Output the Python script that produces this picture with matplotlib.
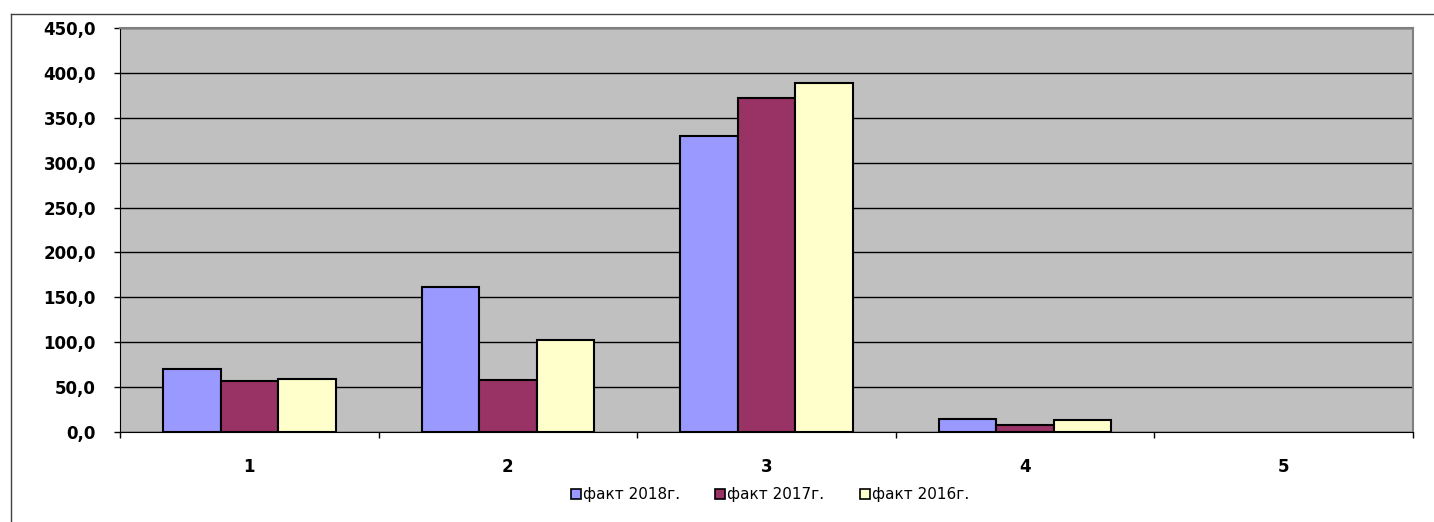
import numpy as np
import matplotlib.pyplot as plt
from matplotlib.lines import Line2D

plt.rcParams['font.family'] = ['DejaVu Sans']

categories = ['1', '2', '3', '4', '5']
series_names = ['факт 2018г.', 'факт 2017г.', 'факт 2016г.']
fact_2018 = [70.2, 161.5, 329.3, 14.5, 0.0]
fact_2017 = [57.0, 58.3, 371.6, 7.4, 0.0]
fact_2016 = [58.6, 102.4, 388.3, 13.4, 0.0]
colors = ['#9999FF', '#993366', '#FFFFCC']

fig = plt.figure(figsize=(14.34, 5.22), dpi=100)
ax = fig.add_axes([120 / 1434, 90 / 522, (1413 - 120) / 1434, (432 - 28) / 522])

x = np.arange(len(categories))
w = 0.2223
for i, (vals, name) in enumerate(zip([fact_2018, fact_2017, fact_2016], series_names)):
    lw = [1.5 if v > 0 else 0 for v in vals]
    ax.bar(x + (i - 1) * w, vals, width=w, color=colors[i], edgecolor='black',
           linewidth=lw, label=name, zorder=3)

ax.set_facecolor('#C0C0C0')
ax.set_xlim(-0.5, 4.5)
ax.set_ylim(0, 450)
yt = np.arange(0, 451, 50)
ax.set_yticks(yt)
ax.set_yticklabels([f'{v:.1f}'.replace('.', ',') for v in yt], fontsize=12, fontweight='bold')
ax.yaxis.grid(True, color='black', linewidth=1, zorder=1)

# ticks at category boundaries, labels at centers
ax.set_xticks(np.arange(-0.5, 4.6, 1.0))
ax.set_xticklabels([])
ax.set_xticks(x, minor=True)
ax.set_xticklabels(categories, minor=True, fontsize=12, fontweight='bold')
ax.tick_params(axis='x', which='minor', length=0, pad=19)
ax.tick_params(axis='x', which='major', length=4.3, width=1, direction='out')
ax.tick_params(axis='y', length=4.3, width=1, direction='out', pad=13)

for side in ['top', 'right']:
    ax.spines[side].set_color('#808080')
    ax.spines[side].set_linewidth(1.5)
ax.spines['left'].set_color('black')
ax.spines['bottom'].set_color('black')

leg = fig.legend(loc='center', bbox_to_anchor=(770 / 1434, 1 - 495 / 522), ncol=3, frameon=False,
                 fontsize=11, handlelength=0.65, handleheight=0.65, handletextpad=0.15,
                 columnspacing=2.3)
for h in leg.legend_handles:
    h.set_linewidth(1.2)

# outer chart frame (left and top edges visible)
fig.add_artist(Line2D([11 / 1434, 11 / 1434], [0, 1 - 14 / 522], color='#404040', linewidth=1))
fig.add_artist(Line2D([11 / 1434, 1433 / 1434], [1 - 14 / 522, 1 - 14 / 522], color='#404040', linewidth=1))

fig.savefig('out.png', dpi=100)
